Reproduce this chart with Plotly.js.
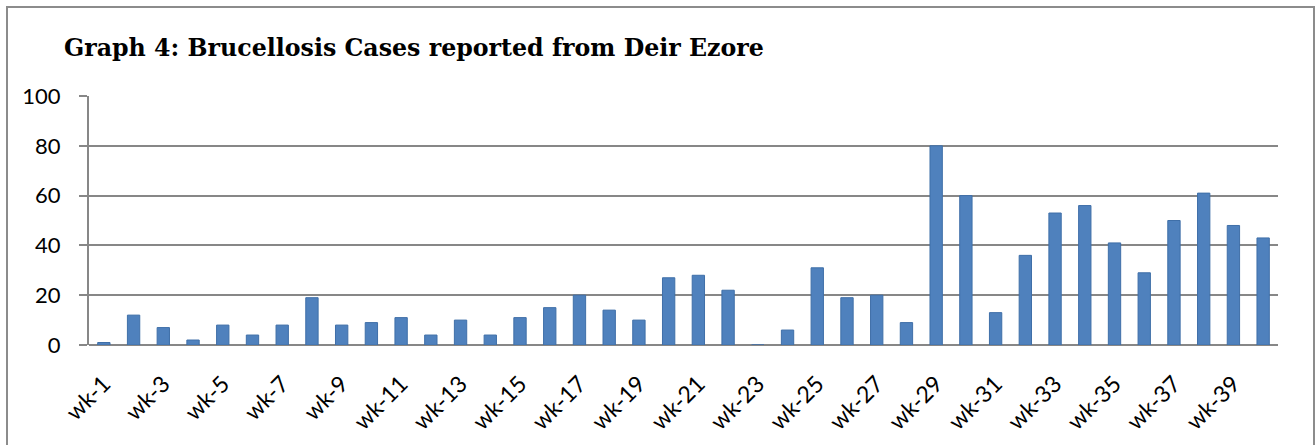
<!DOCTYPE html>
<html>
<head>
<meta charset="utf-8">
<script src="https://cdn.plot.ly/plotly-3.0.1.min.js"></script>
<style>
  html, body { margin: 0; padding: 0; background: #ffffff; }
  #wrap { position: relative; width: 1316px; height: 445px; overflow: hidden; }
  #chart { position: absolute; left: 0; top: 0; width: 1316px; height: 445px; }
  #frame { position: absolute; left: 6px; top: 6px; width: 1305px; height: 470px;
           border: 2px solid #8c8c8c; pointer-events: none; }
</style>
</head>
<body>
<div id="wrap">
  <div id="chart"></div>
  <div id="frame"></div>
</div>
<script>
const weeks = ["wk-1","wk-2","wk-3","wk-4","wk-5","wk-6","wk-7","wk-8","wk-9","wk-10",
               "wk-11","wk-12","wk-13","wk-14","wk-15","wk-16","wk-17","wk-18","wk-19","wk-20",
               "wk-21","wk-22","wk-23","wk-24","wk-25","wk-26","wk-27","wk-28","wk-29","wk-30",
               "wk-31","wk-32","wk-33","wk-34","wk-35","wk-36","wk-37","wk-38","wk-39","wk-40"];
const cases = [1, 12, 7, 2, 8, 4, 8, 19, 8, 9,
               11, 4, 10, 4, 11, 15, 20, 14, 10, 27,
               28, 22, 0, 6, 31, 19, 20, 9, 80, 60,
               13, 36, 53, 56, 41, 29, 50, 61, 48, 43];
const tickLabels = ["wk-1","wk-3","wk-5","wk-7","wk-9","wk-11","wk-13","wk-15","wk-17","wk-19",
                    "wk-21","wk-23","wk-25","wk-27","wk-29","wk-31","wk-33","wk-35","wk-37","wk-39"];
const yTicks = [0, 20, 40, 60, 80, 100];
const chartTitle = "Graph 4: Brucellosis Cases reported from Deir Ezore";

const gridColor = "#878787";
const yLabelFont = { family: "Lato, 'Open Sans', sans-serif", size: 22, color: "#000000" };
const xLabelFont = { family: "Lato, 'Open Sans', sans-serif", size: 23, color: "#000000" };

const trace = {
  type: "bar",
  x: weeks,
  y: cases,
  marker: { color: "#4F81BD", line: { color: "#3f6fa8", width: 1 } },
  hoverinfo: "x+y"
};

const layout = {
  width: 1316,
  height: 445,
  margin: { l: 89, r: 38, t: 96, b: 100, pad: 0 },
  paper_bgcolor: "#ffffff",
  plot_bgcolor: "#ffffff",
  showlegend: false,
  bargap: 0.585,
  title: {
    text: "<b>" + chartTitle + "</b>",
    font: { family: "'DejaVu Serif', 'Liberation Serif', serif", size: 23.7, color: "#000000" },
    x: 64 / 1316,
    xanchor: "left",
    xref: "container",
    y: 1 - 48 / 445,
    yanchor: "middle",
    yref: "container"
  },
  xaxis: {
    type: "category",
    tickmode: "array",
    tickvals: tickLabels,
    ticktext: tickLabels,
    tickangle: -45,
    tickfont: xLabelFont,
    ticklabelstandoff: 20,
    showgrid: false,
    showline: false,
    zeroline: false,
    ticks: "",
    automargin: false
  },
  yaxis: {
    range: [0, 100],
    tickmode: "array",
    tickvals: yTicks,
    tickfont: yLabelFont,
    showgrid: true,
    gridcolor: gridColor,
    gridwidth: 2,
    zeroline: true,
    zerolinecolor: gridColor,
    zerolinewidth: 2,
    showline: true,
    linecolor: gridColor,
    linewidth: 2,
    ticks: "outside",
    ticklen: 8,
    tickwidth: 2,
    tickcolor: gridColor,
    ticklabelstandoff: 14,
    automargin: false,
    fixedrange: true
  }
};

Plotly.newPlot("chart", [trace], layout, { displayModeBar: false, staticPlot: true });
</script>
</body>
</html>
